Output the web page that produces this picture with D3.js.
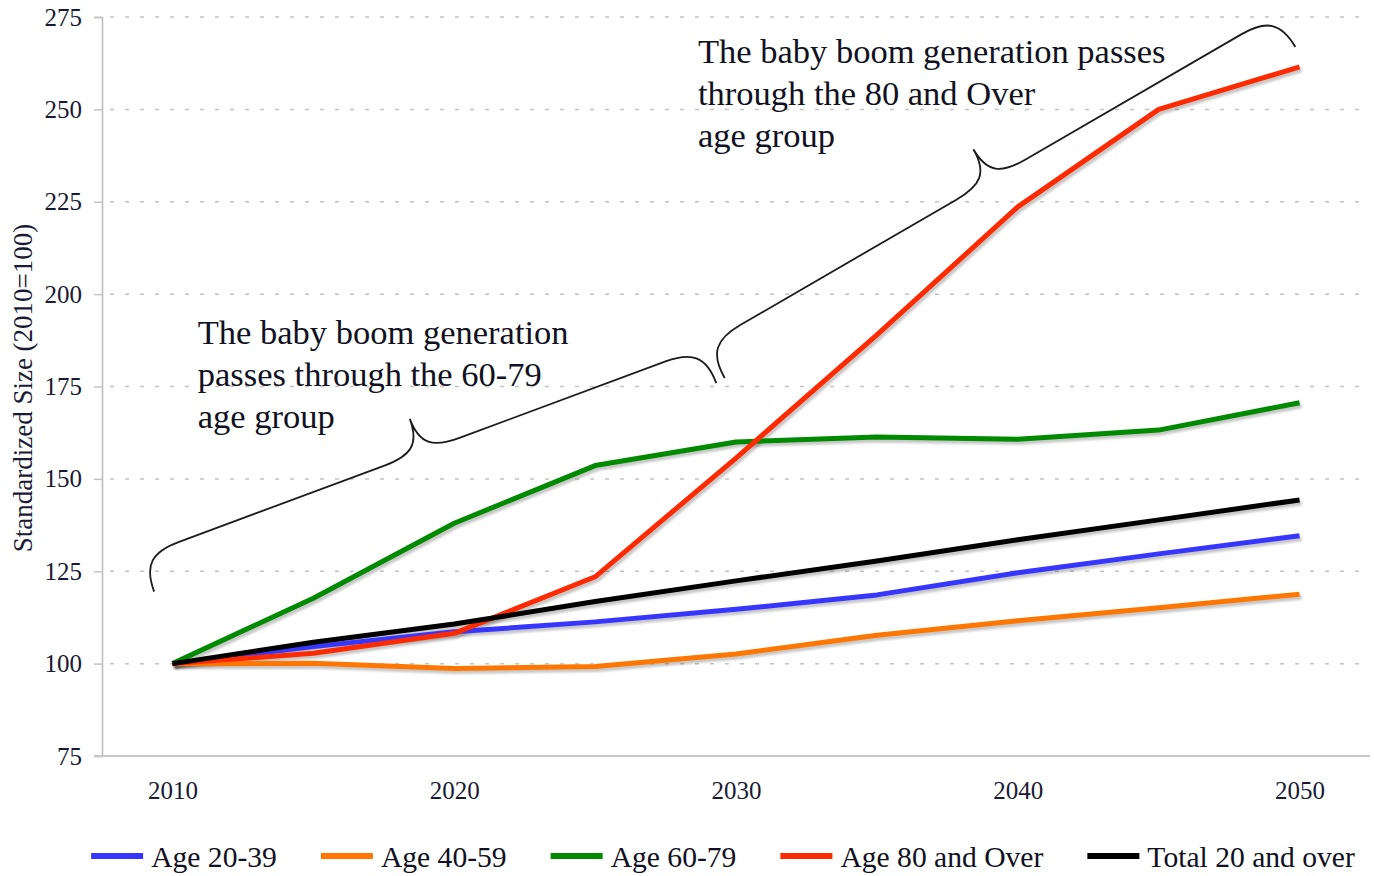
<!DOCTYPE html>
<html>
<head>
<meta charset="utf-8">
<script src="https://cdn.jsdelivr.net/npm/d3@7"></script>
<style>
  body { margin: 0; background: #fff; }
  svg { display: block; font-family: "Liberation Serif", "Times New Roman", serif; }
</style>
</head>
<body>
<div id="chart"></div>
<script>
// values (index 2010 = 100)
const years = [2010, 2015, 2020, 2025, 2030, 2035, 2040, 2045, 2050];
const age2039 = [100, 104.6, 108.6, 111.3, 114.7, 118.6, 124.6, 129.7, 134.6];
const age4059 = [100, 100.1, 98.7, 99.2, 102.6, 107.7, 111.6, 115.1, 118.8];
const age6079 = [100, 117.7, 138.0, 153.6, 160.0, 161.3, 160.7, 163.2, 170.6];
const age80plus = [100, 102.8, 108.2, 123.5, 155.6, 189.0, 223.6, 250.0, 261.5];
const total20plus = [100, 105.8, 110.7, 116.8, 122.4, 127.8, 133.5, 138.9, 144.3];

const seriesNames = ['Age 20-39', 'Age 40-59', 'Age 60-79', 'Age 80 and Over', 'Total 20 and over'];
const seriesColors = ['#3636ff', '#ff7700', '#008a00', '#ff2a00', '#000000'];

const yTicks = [75, 100, 125, 150, 175, 200, 225, 250, 275];
const xTickLabels = [2010, 2020, 2030, 2040, 2050];
const yTitle = 'Standardized Size (2010=100)';

// braces: end points in data units (year, value)
const braceStarts = [[2009.35, 119.5], [2029.6, 177.3]];
const braceEnds = [[2029.3, 175.9], [2049.85, 266.9]];
const noteLines = [
  ['The baby boom generation', 'passes through the 60-79', 'age group'],
  ['The baby boom generation passes', 'through the 80 and Over', 'age group']
];
// first baseline of each note, in data units
const noteAnchors = [[2010.9, 186.6], [2028.65, 262.6]];

const width = 1374, height = 876;
const margin = { left: 102, right: 1370, top: 17, bottom: 756 };

const svg = d3.select('#chart').append('svg')
  .attr('width', width)
  .attr('height', height);

const defs = svg.append('defs');
defs.append('filter').attr('id', 'shade')
  .attr('x', '-5%').attr('y', '-5%').attr('width', '110%').attr('height', '110%')
  .append('feGaussianBlur').attr('stdDeviation', 1.3);

// category axis with half a band of padding on each side
const x = d3.scalePoint().domain(years).range([margin.left, margin.right]).padding(0.5);
const step = x.step();
const xYear = d3.scaleLinear()
  .domain([years[0], years[1]])
  .range([x(years[0]), x(years[0]) + step]);
const y = d3.scaleLinear().domain([75, 275]).range([margin.bottom, margin.top]);

// grid
svg.append('g')
  .selectAll('line')
  .data(yTicks.filter(d => d > 75))
  .enter()
  .append('line')
  .attr('x1', margin.left + 8).attr('x2', margin.right)
  .attr('y1', d => y(d)).attr('y2', d => y(d))
  .attr('stroke', '#c4c4c4')
  .attr('stroke-width', 1.5)
  .attr('stroke-dasharray', '4,11');

// y axis
const yAxis = svg.append('g')
  .attr('transform', 'translate(' + margin.left + ',0)')
  .call(d3.axisLeft(y).tickValues(yTicks).tickSize(8).tickPadding(12));
yAxis.select('.domain').attr('stroke', '#bdbdbd').attr('stroke-width', 1.6);
yAxis.selectAll('.tick line').attr('stroke', '#c4c4c4').attr('stroke-width', 1.5);
yAxis.selectAll('.tick text')
  .attr('fill', '#1a1a33')
  .style('font-size', '25px')
  .style('font-family', '"Liberation Serif", serif');

// x axis
const xAxis = svg.append('g')
  .attr('transform', 'translate(0,' + margin.bottom + ')')
  .call(d3.axisBottom(x).tickValues(xTickLabels).tickSize(0));
xAxis.select('.domain').attr('d', 'M' + (margin.left - 8) + ',0H' + margin.right)
  .attr('stroke', '#c8c8c8').attr('stroke-width', 2);
xAxis.selectAll('.tick text')
  .attr('dy', null)
  .attr('y', 43)
  .attr('fill', '#1a1a33')
  .style('font-size', '25px')
  .style('font-family', '"Liberation Serif", serif');

svg.append('text')
  .attr('transform', 'translate(32,388) rotate(-90)')
  .attr('text-anchor', 'middle')
  .attr('fill', '#1a1a33')
  .style('font-size', '27px')
  .text(yTitle);

// lines
const series = [age2039, age4059, age6079, age80plus, total20plus];
const line = d3.line()
  .x((d, i) => x(years[i]))
  .y(d => y(d));

const shadows = svg.append('g');
const lines = svg.append('g');
series.forEach((values, i) => {
  shadows.append('path')
    .attr('d', line(values))
    .attr('transform', 'translate(2,3)')
    .attr('fill', 'none')
    .attr('stroke', '#000')
    .attr('stroke-opacity', 0.22)
    .attr('stroke-width', 5)
    .attr('filter', 'url(#shade)');
  lines.append('path')
    .attr('d', line(values))
    .attr('fill', 'none')
    .attr('stroke', seriesColors[i])
    .attr('stroke-width', 5)
    .attr('stroke-linejoin', 'round');
});

// curly braces
function bracePath(len, h, c) {
  const m = len / 2, r = 40;
  return 'M0,0' +
    'C0,' + (-h * 0.75) + ' 12,' + (-h) + ' ' + r + ',' + (-h) +
    'L' + (m - r) + ',' + (-h) +
    'C' + (m - 12) + ',' + (-h) + ' ' + m + ',' + (-h * 1.2) + ' ' + m + ',' + (-c) +
    'C' + m + ',' + (-h * 1.2) + ' ' + (m + 12) + ',' + (-h) + ' ' + (m + r) + ',' + (-h) +
    'L' + (len - r) + ',' + (-h) +
    'C' + (len - 12) + ',' + (-h) + ' ' + len + ',' + (-h * 0.75) + ' ' + len + ',0';
}

braceStarts.forEach((s, i) => {
  const x1 = xYear(s[0]), y1 = y(s[1]);
  const x2 = xYear(braceEnds[i][0]), y2 = y(braceEnds[i][1]);
  const len = Math.hypot(x2 - x1, y2 - y1);
  const ang = Math.atan2(y2 - y1, x2 - x1) * 180 / Math.PI;
  svg.append('path')
    .attr('transform', 'translate(' + x1 + ',' + y1 + ') rotate(' + ang + ')')
    .attr('d', bracePath(len, 38, 73))
    .attr('fill', 'none')
    .attr('stroke', '#1c1c1c')
    .attr('stroke-width', 1.8);
});

// annotation text
noteLines.forEach((lns, i) => {
  const t = svg.append('text')
    .attr('x', xYear(noteAnchors[i][0]))
    .attr('y', y(noteAnchors[i][1]))
    .attr('fill', '#111122')
    .style('font-size', '34.5px');
  lns.forEach((s, j) => {
    t.append('tspan')
      .attr('x', xYear(noteAnchors[i][0]))
      .attr('dy', j === 0 ? 0 : 42)
      .text(s);
  });
});

// legend
const legend = svg.append('g').attr('transform', 'translate(0,856)');
const items = seriesNames.map((name, i) => {
  const g = legend.append('g');
  g.append('line')
    .attr('x1', 0).attr('x2', 52)
    .attr('stroke', seriesColors[i])
    .attr('stroke-width', 6);
  const t = g.append('text')
    .attr('x', 60)
    .attr('y', 11)
    .attr('fill', '#111122')
    .style('font-size', '29.6px')
    .text(name);
  return { g: g, w: 60 + t.node().getComputedTextLength() };
});
const gap = 44;
const total = d3.sum(items, d => d.w) + gap * (items.length - 1);
let pos = 723 - total / 2;
items.forEach(d => {
  d.g.attr('transform', 'translate(' + pos + ',0)');
  pos += d.w + gap;
});
</script>
</body>
</html>
